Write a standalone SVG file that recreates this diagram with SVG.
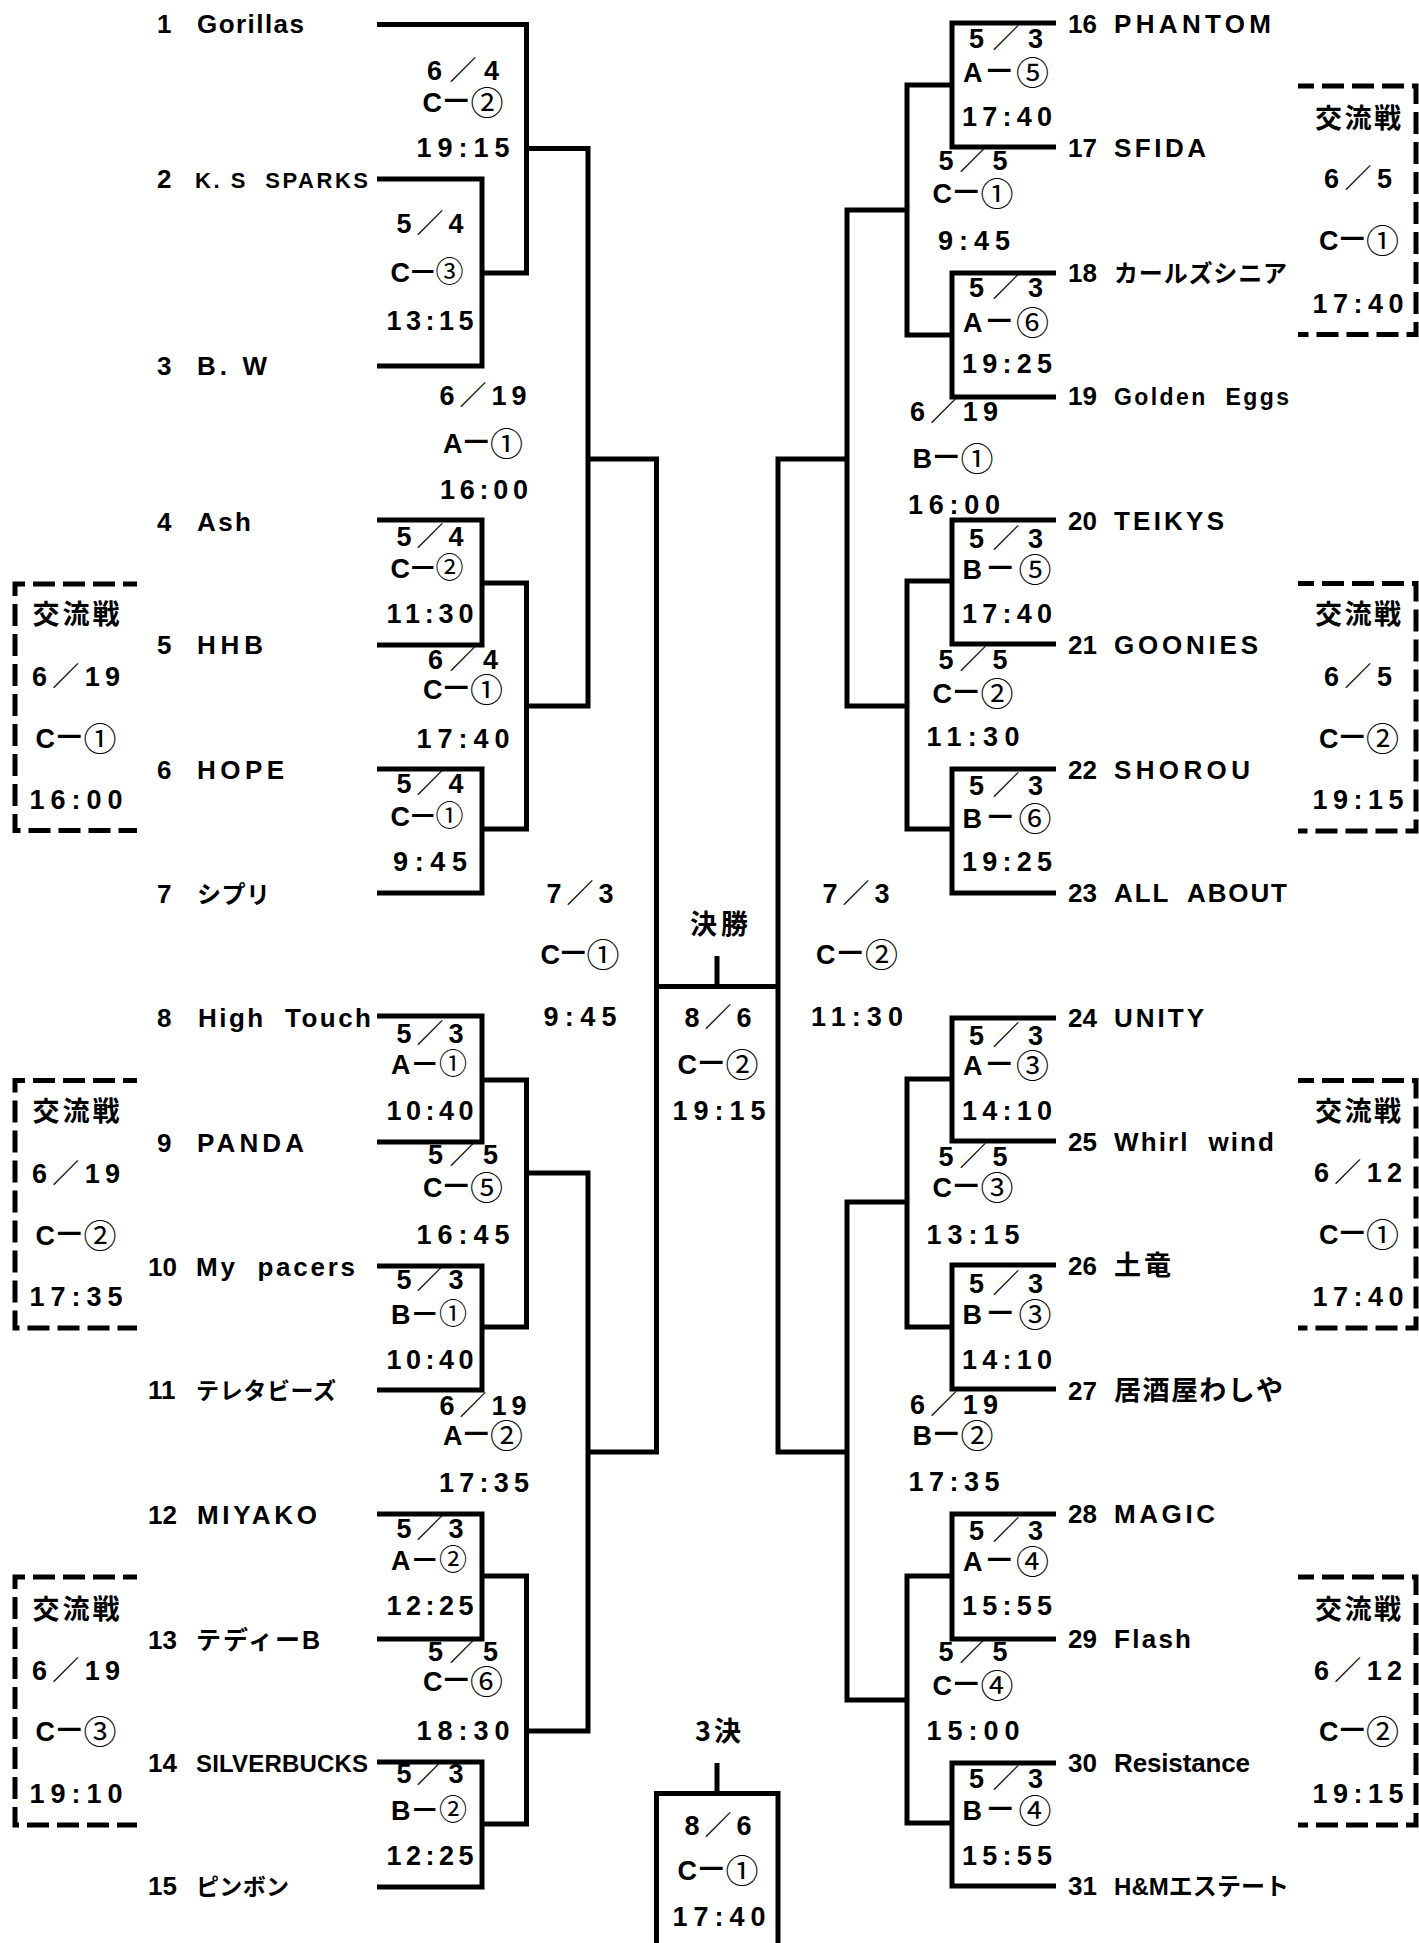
<svg xmlns="http://www.w3.org/2000/svg" width="1419" height="1943" viewBox="0 0 1419 1943">
<style>
text{font-family:"Liberation Sans","Noto Sans CJK JP",sans-serif;font-weight:bold;fill:#000}
.t{font-size:26px}
.l{font-size:27px;text-anchor:middle}
.j{font-family:"Noto Sans CJK JP",sans-serif;font-size:27px;text-anchor:middle}
.r{font-family:"Noto Sans CJK JP",sans-serif;font-weight:normal}
.c{font-family:"Noto Sans CJK JP",sans-serif;font-weight:normal;font-size:33px}
.cs{font-family:"Noto Sans CJK JP",sans-serif;font-weight:normal;font-size:28px}
.d{font-family:"Noto Sans CJK JP",sans-serif;font-size:32px}
.ds{font-family:"Noto Sans CJK JP",sans-serif;font-size:30px}
.ln{fill:none;stroke:#000;stroke-width:5}
.dl{fill:none;stroke:#000;stroke-width:5;stroke-dasharray:22 8;stroke-dashoffset:8}
.dr{fill:none;stroke:#000;stroke-width:5;stroke-dasharray:22 8;stroke-dashoffset:6}
</style>
<rect width="1419" height="1943" fill="#fff"/>
<g id="connectors" class="ln">
<path d="M377,24.5H526.5V273H482"/>
<path d="M377,179H482V366H377"/>
<path d="M526.5,148.5H588V706H526.5"/>
<path d="M377,520H482V645H377"/>
<path d="M482,583H526.5V829H482"/>
<path d="M377,769H482V893H377"/>
<path d="M588,459H656.5V1452H588"/>
<path d="M377,1016H482V1142H377"/>
<path d="M482,1080H526.5V1327H482"/>
<path d="M377,1266H482V1390H377"/>
<path d="M526.5,1173H588V1731H526.5"/>
<path d="M377,1514H482V1639H377"/>
<path d="M482,1576H526.5V1824H482"/>
<path d="M377,1762H482V1887H377"/>
<path d="M656.5,986.5H778"/>
<path d="M717,956V986.5"/>
<path d="M847,459H778V1452H847"/>
<path d="M907,210H847V706H907"/>
<path d="M952,85H907V335H952"/>
<path d="M1056,23H952V147H1056"/>
<path d="M1056,273H952V397H1056"/>
<path d="M952,581H907V829H952"/>
<path d="M1056,520H952V644H1056"/>
<path d="M1056,769H952V893H1056"/>
<path d="M907,1202H847V1700H907"/>
<path d="M952,1079H907V1327H952"/>
<path d="M1056,1018H952V1141H1056"/>
<path d="M1056,1265H952V1389H1056"/>
<path d="M952,1576H907V1823H952"/>
<path d="M1056,1514H952V1639H1056"/>
<path d="M1056,1763H952V1886H1056"/>
<path d="M717,1763V1793.5"/>
<path d="M656.5,1950V1793.5H778V1950"/>
</g>

<g id="team1"><text class="t" x="157" y="33">1</text><text class="t" x="197" y="33" textLength="107">Gorillas</text></g>
<g id="team2"><text class="t" x="157" y="188">2</text><text class="t" x="195" y="188" style="font-size:22px" textLength="173" xml:space="preserve">K. S  SPARKS</text></g>
<g id="team3"><text class="t" x="157" y="375">3</text><text class="t" x="197" y="375" textLength="70">B. W</text></g>
<g id="team4"><text class="t" x="157" y="531">4</text><text class="t" x="197" y="531" textLength="54">Ash</text></g>
<g id="team5"><text class="t" x="157" y="654">5</text><text class="t" x="197" y="654" textLength="66">HHB</text></g>
<g id="team6"><text class="t" x="157" y="779">6</text><text class="t" x="197" y="779" textLength="87">HOPE</text></g>
<g id="team7"><text class="t" x="157" y="903">7</text><text class="t" x="197" y="903" style="font-size:24px" textLength="73">シプリ</text></g>
<g id="team8"><text class="t" x="157" y="1027">8</text><text class="t" x="198" y="1027" textLength="173" xml:space="preserve">High  Touch</text></g>
<g id="team9"><text class="t" x="157" y="1152">9</text><text class="t" x="197" y="1152" textLength="107">PANDA</text></g>
<g id="team10"><text class="t" x="148" y="1276">10</text><text class="t" x="196" y="1276" textLength="159" xml:space="preserve">My  pacers</text></g>
<g id="team11"><text class="t" x="148" y="1399">11</text><text class="t" x="196" y="1399" style="font-size:23px" textLength="140">テレタビーズ</text></g>
<g id="team12"><text class="t" x="148" y="1524">12</text><text class="t" x="197" y="1524" textLength="120">MIYAKO</text></g>
<g id="team13"><text class="t" x="148" y="1649">13</text><text class="t" x="196" y="1649" style="font-size:25px" textLength="124">テディーB</text></g>
<g id="team14"><text class="t" x="148" y="1772">14</text><text class="t" x="196" y="1772" style="font-size:24px" textLength="172">SILVERBUCKS</text></g>
<g id="team15"><text class="t" x="148" y="1895">15</text><text class="t" x="196" y="1895" style="font-size:23px" textLength="93">ピンボン</text></g>

<g id="team16"><text class="t" x="1068" y="33">16</text><text class="t" x="1114" y="33" textLength="157">PHANTOM</text></g>
<g id="team17"><text class="t" x="1068" y="157">17</text><text class="t" x="1114" y="157" textLength="92">SFIDA</text></g>
<g id="team18"><text class="t" x="1068" y="282">18</text><text class="t" x="1114" y="282" style="font-size:24px" textLength="173">カールズシニア</text></g>
<g id="team19"><text class="t" x="1068" y="405">19</text><text class="t" x="1114" y="405" style="font-size:23px" textLength="175" xml:space="preserve">Golden  Eggs</text></g>
<g id="team20"><text class="t" x="1068" y="530">20</text><text class="t" x="1114" y="530" textLength="110">TEIKYS</text></g>
<g id="team21"><text class="t" x="1068" y="654">21</text><text class="t" x="1114" y="654" textLength="144">GOONIES</text></g>
<g id="team22"><text class="t" x="1068" y="779">22</text><text class="t" x="1114" y="779" textLength="136">SHOROU</text></g>
<g id="team23"><text class="t" x="1068" y="902">23</text><text class="t" x="1114" y="902" textLength="173" xml:space="preserve">ALL  ABOUT</text></g>
<g id="team24"><text class="t" x="1068" y="1027">24</text><text class="t" x="1114" y="1027" textLength="90">UNITY</text></g>
<g id="team25"><text class="t" x="1068" y="1151">25</text><text class="t" x="1114" y="1151" textLength="160" xml:space="preserve">Whirl  wind</text></g>
<g id="team26"><text class="t" x="1068" y="1275">26</text><text class="t" x="1114" y="1275" style="font-size:27px" textLength="57">土竜</text></g>
<g id="team27"><text class="t" x="1068" y="1400">27</text><text class="t" x="1114" y="1400" style="font-size:27px" textLength="169">居酒屋わしや</text></g>
<g id="team28"><text class="t" x="1068" y="1523">28</text><text class="t" x="1114" y="1523" textLength="101">MAGIC</text></g>
<g id="team29"><text class="t" x="1068" y="1648">29</text><text class="t" x="1114" y="1648" textLength="77">Flash</text></g>
<g id="team30"><text class="t" x="1068" y="1772">30</text><text class="t" x="1114" y="1772" textLength="136">Resistance</text></g>
<g id="team31"><text class="t" x="1068" y="1895">31</text><text class="t" x="1114" y="1895" style="font-size:24px" textLength="175">H&amp;Mエステート</text></g>

<g id="m-1-23">
<text class="l" x="463" y="80" textLength="72">6<tspan class="r">／</tspan>4</text>
<text class="l" x="463" y="112" textLength="81">C<tspan class="d">－</tspan><tspan class="c" dy="3">②</tspan></text>
<text class="l" x="463" y="157" textLength="93">19:15</text>
</g>
<g id="m-2-3">
<text class="l" x="430" y="233" textLength="67">5<tspan class="r">／</tspan>4</text>
<text class="l" x="427" y="282" textLength="73">C<tspan class="ds">－</tspan><tspan class="cs">③</tspan></text>
<text class="l" x="430" y="330" textLength="87">13:15</text>
</g>
<g id="m-sf-l1">
<text class="l" x="483" y="405" textLength="87">6<tspan class="r">／</tspan>19</text>
<text class="l" x="483" y="453" textLength="80">A<tspan class="d">－</tspan><tspan class="c" dy="3">①</tspan></text>
<text class="l" x="484" y="499" textLength="88">16:00</text>
</g>
<g id="m-4-5">
<text class="l" x="430" y="546" textLength="67">5<tspan class="r">／</tspan>4</text>
<text class="l" x="427" y="578" textLength="73">C<tspan class="ds">－</tspan><tspan class="cs">②</tspan></text>
<text class="l" x="430" y="623" textLength="87">11:30</text>
</g>
<g id="m-45-67">
<text class="l" x="463" y="669" textLength="70">6<tspan class="r">／</tspan>4</text>
<text class="l" x="463" y="699" textLength="80">C<tspan class="d">－</tspan><tspan class="c" dy="3">①</tspan></text>
<text class="l" x="463" y="748" textLength="93">17:40</text>
</g>
<g id="m-6-7">
<text class="l" x="430" y="793" textLength="67">5<tspan class="r">／</tspan>4</text>
<text class="l" x="427" y="826" textLength="73">C<tspan class="ds">－</tspan><tspan class="cs">①</tspan></text>
<text class="l" x="430" y="871" textLength="74">9:45</text>
</g>
<g id="m-qf-l">
<text class="l" x="580" y="903" textLength="67">7<tspan class="r">／</tspan>3</text>
<text class="l" x="580" y="964" textLength="79">C<tspan class="d">－</tspan><tspan class="c" dy="3">①</tspan></text>
<text class="l" x="580" y="1026" textLength="73">9:45</text>
</g>
<g id="m-8-9">
<text class="l" x="430" y="1043" textLength="67">5<tspan class="r">／</tspan>3</text>
<text class="l" x="429" y="1074" textLength="76">A<tspan class="ds">－</tspan><tspan class="cs">①</tspan></text>
<text class="l" x="430" y="1120" textLength="87">10:40</text>
</g>
<g id="m-89-1011">
<text class="l" x="463" y="1164" textLength="70">5<tspan class="r">／</tspan>5</text>
<text class="l" x="463" y="1197" textLength="80">C<tspan class="d">－</tspan><tspan class="c" dy="3">⑤</tspan></text>
<text class="l" x="463" y="1244" textLength="93">16:45</text>
</g>
<g id="m-10-11">
<text class="l" x="430" y="1289" textLength="67">5<tspan class="r">／</tspan>3</text>
<text class="l" x="429" y="1324" textLength="76">B<tspan class="ds">－</tspan><tspan class="cs">①</tspan></text>
<text class="l" x="430" y="1369" textLength="87">10:40</text>
</g>
<g id="m-sf-l2">
<text class="l" x="483" y="1415" textLength="87">6<tspan class="r">／</tspan>19</text>
<text class="l" x="483" y="1445" textLength="80">A<tspan class="d">－</tspan><tspan class="c" dy="3">②</tspan></text>
<text class="l" x="484" y="1492" textLength="90">17:35</text>
</g>
<g id="m-12-13">
<text class="l" x="430" y="1538" textLength="67">5<tspan class="r">／</tspan>3</text>
<text class="l" x="429" y="1570" textLength="76">A<tspan class="ds">－</tspan><tspan class="cs">②</tspan></text>
<text class="l" x="430" y="1615" textLength="87">12:25</text>
</g>
<g id="m-1213-1415">
<text class="l" x="463" y="1661" textLength="70">5<tspan class="r">／</tspan>5</text>
<text class="l" x="463" y="1691" textLength="80">C<tspan class="d">－</tspan><tspan class="c" dy="3">⑥</tspan></text>
<text class="l" x="463" y="1740" textLength="93">18:30</text>
</g>
<g id="m-14-15">
<text class="l" x="430" y="1783" textLength="67">5<tspan class="r">／</tspan>3</text>
<text class="l" x="429" y="1820" textLength="76">B<tspan class="ds">－</tspan><tspan class="cs">②</tspan></text>
<text class="l" x="430" y="1865" textLength="87">12:25</text>
</g>

<g id="m-16-17">
<text class="l" x="1006" y="48" textLength="74">5<tspan class="r">／</tspan>3</text>
<text class="l" x="1006" y="82" textLength="86">A<tspan class="d">－</tspan><tspan class="c" dy="3">⑤</tspan></text>
<text class="l" x="1007" y="126" textLength="90">17:40</text>
</g>
<g id="m-1617-1819">
<text class="l" x="973" y="170" textLength="69">5<tspan class="r">／</tspan>5</text>
<text class="l" x="973" y="203" textLength="81">C<tspan class="d">－</tspan><tspan class="c" dy="3">①</tspan></text>
<text class="l" x="974" y="250" textLength="72">9:45</text>
</g>
<g id="m-18-19">
<text class="l" x="1006" y="297" textLength="74">5<tspan class="r">／</tspan>3</text>
<text class="l" x="1006" y="332" textLength="86">A<tspan class="d">－</tspan><tspan class="c" dy="3">⑥</tspan></text>
<text class="l" x="1007" y="373" textLength="90">19:25</text>
</g>
<g id="m-sf-r1">
<text class="l" x="954" y="421" textLength="88">6<tspan class="r">／</tspan>19</text>
<text class="l" x="953" y="468" textLength="81">B<tspan class="d">－</tspan><tspan class="c" dy="3">①</tspan></text>
<text class="l" x="954" y="514" textLength="92">16:00</text>
</g>
<g id="m-20-21">
<text class="l" x="1006" y="548" textLength="74">5<tspan class="r">／</tspan>3</text>
<text class="l" x="1007" y="579" textLength="89">B<tspan class="d">－</tspan><tspan class="c" dy="3">⑤</tspan></text>
<text class="l" x="1007" y="623" textLength="90">17:40</text>
</g>
<g id="m-2021-2223">
<text class="l" x="973" y="669" textLength="69">5<tspan class="r">／</tspan>5</text>
<text class="l" x="973" y="703" textLength="81">C<tspan class="d">－</tspan><tspan class="c" dy="3">②</tspan></text>
<text class="l" x="973" y="746" textLength="93">11:30</text>
</g>
<g id="m-22-23">
<text class="l" x="1006" y="795" textLength="74">5<tspan class="r">／</tspan>3</text>
<text class="l" x="1007" y="828" textLength="89">B<tspan class="d">－</tspan><tspan class="c" dy="3">⑥</tspan></text>
<text class="l" x="1007" y="871" textLength="90">19:25</text>
</g>
<g id="m-qf-r">
<text class="l" x="856" y="903" textLength="67">7<tspan class="r">／</tspan>3</text>
<text class="l" x="857" y="964" textLength="82">C<tspan class="d">－</tspan><tspan class="c" dy="3">②</tspan></text>
<text class="l" x="857" y="1026" textLength="92">11:30</text>
</g>
<g id="m-24-25">
<text class="l" x="1006" y="1045" textLength="74">5<tspan class="r">／</tspan>3</text>
<text class="l" x="1006" y="1075" textLength="86">A<tspan class="d">－</tspan><tspan class="c" dy="3">③</tspan></text>
<text class="l" x="1007" y="1120" textLength="90">14:10</text>
</g>
<g id="m-2425-2627">
<text class="l" x="973" y="1166" textLength="69">5<tspan class="r">／</tspan>5</text>
<text class="l" x="973" y="1197" textLength="81">C<tspan class="d">－</tspan><tspan class="c" dy="3">③</tspan></text>
<text class="l" x="973" y="1244" textLength="93">13:15</text>
</g>
<g id="m-26-27">
<text class="l" x="1006" y="1293" textLength="74">5<tspan class="r">／</tspan>3</text>
<text class="l" x="1007" y="1324" textLength="89">B<tspan class="d">－</tspan><tspan class="c" dy="3">③</tspan></text>
<text class="l" x="1007" y="1369" textLength="90">14:10</text>
</g>
<g id="m-sf-r2">
<text class="l" x="954" y="1414" textLength="88">6<tspan class="r">／</tspan>19</text>
<text class="l" x="953" y="1445" textLength="81">B<tspan class="d">－</tspan><tspan class="c" dy="3">②</tspan></text>
<text class="l" x="954" y="1491" textLength="91">17:35</text>
</g>
<g id="m-28-29">
<text class="l" x="1006" y="1540" textLength="74">5<tspan class="r">／</tspan>3</text>
<text class="l" x="1006" y="1571" textLength="86">A<tspan class="d">－</tspan><tspan class="c" dy="3">④</tspan></text>
<text class="l" x="1007" y="1615" textLength="90">15:55</text>
</g>
<g id="m-2829-3031">
<text class="l" x="973" y="1661" textLength="69">5<tspan class="r">／</tspan>5</text>
<text class="l" x="973" y="1695" textLength="81">C<tspan class="d">－</tspan><tspan class="c" dy="3">④</tspan></text>
<text class="l" x="973" y="1740" textLength="93">15:00</text>
</g>
<g id="m-30-31">
<text class="l" x="1006" y="1788" textLength="74">5<tspan class="r">／</tspan>3</text>
<text class="l" x="1007" y="1820" textLength="89">B<tspan class="d">－</tspan><tspan class="c" dy="3">④</tspan></text>
<text class="l" x="1007" y="1865" textLength="90">15:55</text>
</g>

<g id="final">
<text class="j" x="719" y="934" textLength="58">決勝</text>
<text class="l" x="718" y="1027" textLength="67">8<tspan class="r">／</tspan>6</text>
<text class="l" x="718" y="1074" textLength="81">C<tspan class="d">－</tspan><tspan class="c" dy="3">②</tspan></text>
<text class="l" x="719" y="1120" textLength="93">19:15</text>
</g>
<g id="third">
<text class="j" x="718" y="1741" textLength="46">3決</text>
<text class="l" x="718" y="1835" textLength="67">8<tspan class="r">／</tspan>6</text>
<text class="l" x="718" y="1880" textLength="81">C<tspan class="d">－</tspan><tspan class="c" dy="3">①</tspan></text>
<text class="l" x="719" y="1926" textLength="93">17:40</text>
</g>

<g id="box-l1">
<path class="dl" d="M137,584H15V830.5H137"/>
<text class="j" x="76" y="624" textLength="87">交流戦</text>
<text class="l" x="76" y="686" textLength="88">6<tspan class="r">／</tspan>19</text>
<text class="l" x="76" y="748" textLength="81">C<tspan class="d">－</tspan><tspan class="c" dy="3">①</tspan></text>
<text class="l" x="76" y="809" textLength="93">16:00</text>
</g>
<g id="box-l2">
<path class="dl" d="M137,1080.5H15V1328H137"/>
<text class="j" x="76" y="1121" textLength="87">交流戦</text>
<text class="l" x="76" y="1183" textLength="88">6<tspan class="r">／</tspan>19</text>
<text class="l" x="76" y="1245" textLength="81">C<tspan class="d">－</tspan><tspan class="c" dy="3">②</tspan></text>
<text class="l" x="76" y="1306" textLength="93">17:35</text>
</g>
<g id="box-l3">
<path class="dl" d="M137,1577H15V1825H137"/>
<text class="j" x="76" y="1619" textLength="87">交流戦</text>
<text class="l" x="76" y="1680" textLength="88">6<tspan class="r">／</tspan>19</text>
<text class="l" x="76" y="1741" textLength="81">C<tspan class="d">－</tspan><tspan class="c" dy="3">③</tspan></text>
<text class="l" x="76" y="1803" textLength="93">19:10</text>
</g>
<g id="box-r1">
<path class="dr" d="M1298,86H1416V334.5H1298"/>
<text class="j" x="1358" y="128" textLength="86">交流戦</text>
<text class="l" x="1358" y="188" textLength="68">6<tspan class="r">／</tspan>5</text>
<text class="l" x="1359" y="250" textLength="80">C<tspan class="d">－</tspan><tspan class="c" dy="3">①</tspan></text>
<text class="l" x="1358" y="313" textLength="91">17:40</text>
</g>
<g id="box-r2">
<path class="dr" d="M1298,583.5H1416V831H1298"/>
<text class="j" x="1358" y="624" textLength="86">交流戦</text>
<text class="l" x="1358" y="686" textLength="68">6<tspan class="r">／</tspan>5</text>
<text class="l" x="1359" y="748" textLength="80">C<tspan class="d">－</tspan><tspan class="c" dy="3">②</tspan></text>
<text class="l" x="1358" y="809" textLength="91">19:15</text>
</g>
<g id="box-r3">
<path class="dr" d="M1298,1080.5H1416V1328H1298"/>
<text class="j" x="1358" y="1121" textLength="86">交流戦</text>
<text class="l" x="1358" y="1182" textLength="88">6<tspan class="r">／</tspan>12</text>
<text class="l" x="1359" y="1244" textLength="80">C<tspan class="d">－</tspan><tspan class="c" dy="3">①</tspan></text>
<text class="l" x="1358" y="1306" textLength="91">17:40</text>
</g>
<g id="box-r4">
<path class="dr" d="M1298,1577H1416V1825H1298"/>
<text class="j" x="1358" y="1619" textLength="86">交流戦</text>
<text class="l" x="1358" y="1680" textLength="88">6<tspan class="r">／</tspan>12</text>
<text class="l" x="1359" y="1741" textLength="80">C<tspan class="d">－</tspan><tspan class="c" dy="3">②</tspan></text>
<text class="l" x="1358" y="1803" textLength="91">19:15</text>
</g>
</svg>
